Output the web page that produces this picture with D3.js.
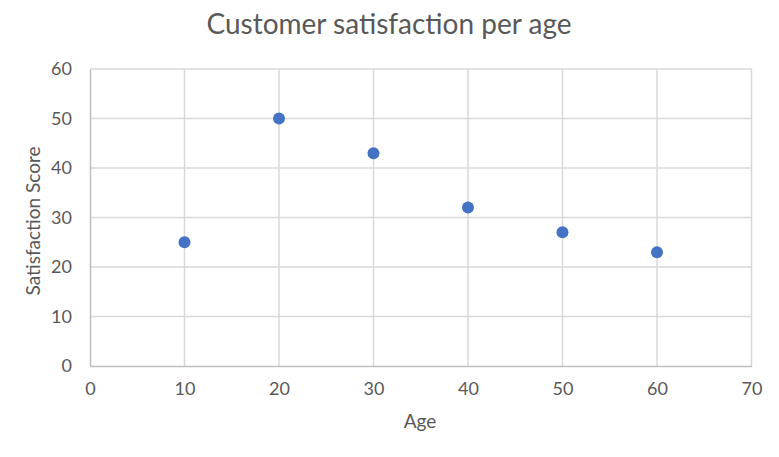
<!DOCTYPE html>
<html><head><meta charset="utf-8">
<script src="https://cdn.jsdelivr.net/npm/d3@7"></script>
<style>body{margin:0;background:#fff}svg{display:block}</style>
</head><body>
<svg id="c" width="779" height="457"></svg>
<script>
const ages = [10, 20, 30, 40, 50, 60];
const scores = [25, 50, 43, 32, 27, 23];
const xTicks = [0, 10, 20, 30, 40, 50, 60, 70];
const yTicks = [0, 10, 20, 30, 40, 50, 60];
const title = "Customer satisfaction per age";
const xTitle = "Age";
const yTitle = "Satisfaction Score";

const svg = d3.select("#c");
const font = "Lato, 'Open Sans', sans-serif";
const x = d3.scaleLinear().domain([0, 70]).range([90, 751.5]);
const y = d3.scaleLinear().domain([0, 60]).range([366, 69]);

svg.append("rect").attr("width", 779).attr("height", 457).attr("fill", "#fff");

svg.append("g").selectAll("line").data(yTicks.filter(d => d > 0)).join("line")
  .attr("x1", x(0)).attr("x2", x(70)).attr("y1", d => y(d)).attr("y2", d => y(d))
  .attr("stroke", "#d9d9d9").attr("stroke-width", 1.5);
svg.append("g").selectAll("line").data(xTicks.filter(d => d > 0)).join("line")
  .attr("y1", y(0)).attr("y2", y(60)).attr("x1", d => x(d)).attr("x2", d => x(d))
  .attr("stroke", "#d9d9d9").attr("stroke-width", 1.5);

const xAxis = svg.append("g").attr("transform", `translate(0,${y(0)})`)
  .call(d3.axisBottom(x).tickValues(xTicks).tickSize(0).tickPadding(16));
const yAxis = svg.append("g").attr("transform", `translate(${x(0)},0)`)
  .call(d3.axisLeft(y).tickValues(yTicks).tickSize(0).tickPadding(18));
[xAxis, yAxis].forEach(a => {
  a.select(".domain").attr("stroke", "#bfbfbf").attr("stroke-width", 1.5);
  a.selectAll("text").attr("fill", "#595959").style("font-family", font).style("font-size", "18px");
});

svg.append("g").selectAll("circle").data(ages.map((a, i) => [a, scores[i]])).join("circle")
  .attr("cx", d => x(d[0])).attr("cy", d => y(d[1])).attr("r", 6)
  .attr("fill", "#4472C4");

svg.append("text").attr("x", 389).attr("y", 34).attr("text-anchor", "middle")
  .attr("fill", "#595959").style("font-family", font).style("font-size", "28px").text(title);
svg.append("text").attr("x", 420).attr("y", 428).attr("text-anchor", "middle")
  .attr("fill", "#595959").style("font-family", font).style("font-size", "19px").text(xTitle);
svg.append("text").attr("transform", "translate(40,221) rotate(-90)").attr("text-anchor", "middle")
  .attr("fill", "#595959").style("font-family", font).style("font-size", "19px").text(yTitle);
</script>
</body></html>
